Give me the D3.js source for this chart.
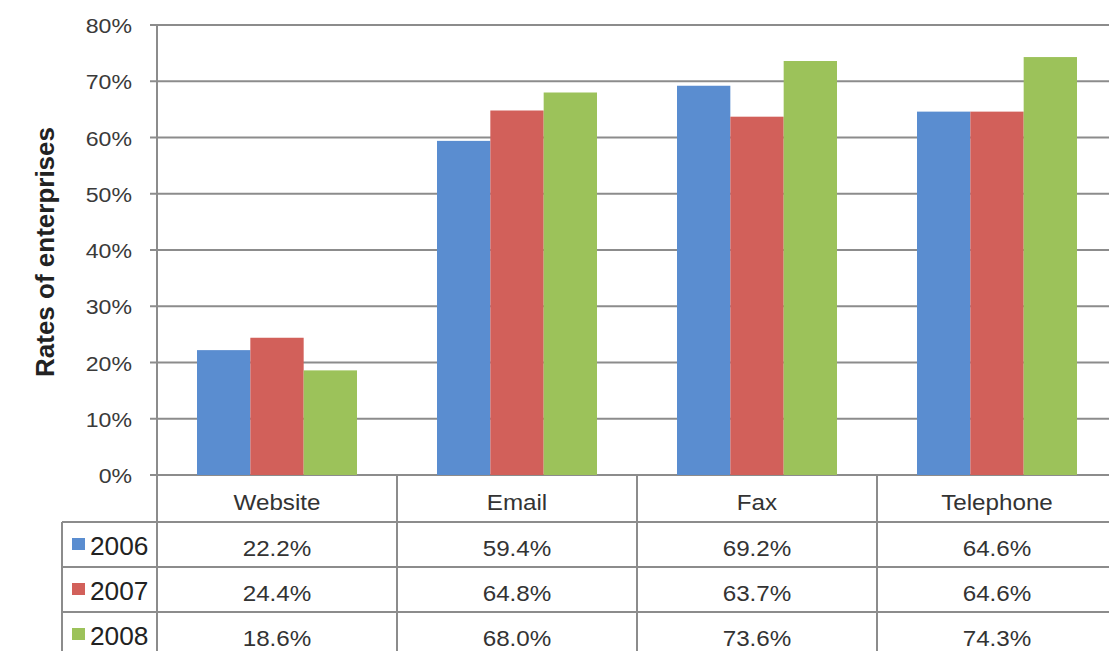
<!DOCTYPE html>
<html>
<head>
<meta charset="utf-8">
<script src="https://cdn.jsdelivr.net/npm/d3@7"></script>
<style>
  body { margin: 0; background: #fff; }
  svg { display: block; font-family: "Liberation Sans", Arial, sans-serif; }
</style>
</head>
<body>
<svg id="chart" width="1109" height="651"></svg>
<script>
// Data
const categories = ['Website', 'Email', 'Fax', 'Telephone'];
const years = ['2006', '2007', '2008'];
const values2006 = [22.2, 59.4, 69.2, 64.6];
const values2007 = [24.4, 64.8, 63.7, 64.6];
const values2008 = [18.6, 68.0, 73.6, 74.3];
const yTicks = [0, 10, 20, 30, 40, 50, 60, 70, 80];
const colors = ['#5a8dd0', '#d2605a', '#9cc25a'];

const series = [values2006, values2007, values2008];

const svg = d3.select('#chart');
const plotLeft = 157, plotTop = 25, plotBottom = 475, colW = 240;
const rowH = 45, headH = 47, tableLeft = 62;
const stretch = 1.1; // the picture text is slightly wider than normal

const x0 = d3.scaleBand().domain(categories)
  .range([plotLeft, plotLeft + colW * categories.length]);
const x1 = d3.scaleBand().domain(years)
  .range([0, x0.bandwidth()]).paddingInner(0).paddingOuter(0.75);
const y = d3.scaleLinear().domain([0, 80]).range([plotBottom, plotTop]);

const gridColor = '#8c8c8c';

// gridlines
svg.append('g').selectAll('line').data(yTicks).enter().append('line')
  .attr('x1', plotLeft - 7).attr('x2', 1109)
  .attr('y1', d => y(d)).attr('y2', d => y(d))
  .attr('stroke', gridColor).attr('stroke-width', 2);

// tick labels
svg.append('g').selectAll('text').data(yTicks).enter().append('text')
  .attr('transform', d => `translate(132,${y(d) + 8}) scale(${stretch},1)`)
  .attr('text-anchor', 'end')
  .attr('font-size', 21)
  .attr('fill', '#3a3a3a')
  .text(d => d + '%');

// bars
const groups = svg.append('g').selectAll('g').data(categories).enter().append('g')
  .attr('transform', d => `translate(${x0(d)},0)`);
groups.selectAll('rect')
  .data((c, i) => years.map((yr, j) => ({ yr, v: series[j][i], j })))
  .enter().append('rect')
  .attr('x', d => x1(d.yr))
  .attr('width', x1.bandwidth())
  .attr('y', d => y(d.v))
  .attr('height', d => y(0) - y(d.v))
  .attr('fill', d => colors[d.j]);

// axis title
svg.append('text')
  .attr('transform', `translate(54,${(plotTop + plotBottom) / 2 + 2}) rotate(-90)`)
  .attr('text-anchor', 'middle')
  .attr('font-size', 26)
  .attr('font-weight', 'bold')
  .attr('fill', '#222')
  .text('Rates of enterprises');

// data table
const tableBottom = plotBottom + headH + rowH * years.length;
const t = svg.append('g').attr('stroke', gridColor).attr('stroke-width', 2);
// vertical axis line running through the table
t.append('line').attr('x1', plotLeft).attr('x2', plotLeft).attr('y1', plotTop).attr('y2', tableBottom);
// column separators
categories.forEach(c => {
  const xr = x0(c) + x0.bandwidth();
  t.append('line').attr('x1', xr).attr('x2', xr).attr('y1', plotBottom).attr('y2', tableBottom);
});
t.append('line').attr('x1', tableLeft).attr('x2', tableLeft)
  .attr('y1', plotBottom + headH).attr('y2', tableBottom);
// row lines
d3.range(years.length + 1).forEach(i => {
  const yy = plotBottom + headH + i * rowH;
  t.append('line').attr('x1', tableLeft).attr('x2', 1109).attr('y1', yy).attr('y2', yy);
});

// header texts
svg.append('g').selectAll('text').data(categories).enter().append('text')
  .attr('transform', d => `translate(${x0(d) + x0.bandwidth() / 2},${plotBottom + 35}) scale(${stretch},1)`)
  .attr('text-anchor', 'middle')
  .attr('font-size', 22)
  .attr('fill', '#333')
  .text(d => d);

// rows
years.forEach((yr, j) => {
  const rowTop = plotBottom + headH + j * rowH;
  svg.append('rect')
    .attr('x', 72).attr('y', rowTop + 16).attr('width', 13).attr('height', 12)
    .attr('fill', colors[j]);
  svg.append('text')
    .attr('transform', `translate(90,${rowTop + 33}) scale(1.05,1)`)
    .attr('font-size', 25)
    .attr('fill', '#222')
    .text(yr);
  svg.append('g').selectAll('text').data(series[j]).enter().append('text')
    .attr('transform', (d, i) => `translate(${x0(categories[i]) + x0.bandwidth() / 2},${rowTop + 34}) scale(${stretch},1)`)
    .attr('text-anchor', 'middle')
    .attr('font-size', 22)
    .attr('fill', '#333')
    .text(d => d.toFixed(1) + '%');
});
</script>
</body>
</html>
